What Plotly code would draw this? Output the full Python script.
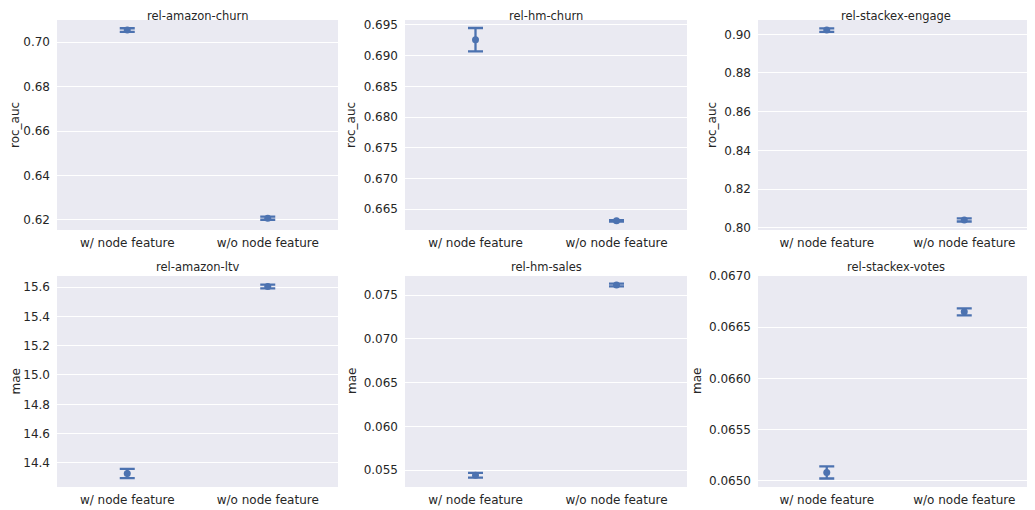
import plotly.graph_objects as go

tasks = ["rel-amazon-churn", "rel-hm-churn", "rel-stackex-engage",
         "rel-amazon-ltv", "rel-hm-sales", "rel-stackex-votes"]
metrics = ["roc_auc", "roc_auc", "roc_auc", "mae", "mae", "mae"]
categories = ["w/ node feature", "w/o node feature"]
with_mean = [0.7054, 0.6926, 0.9022, 14.328, 0.05443, 0.065082]
with_err = [0.0008, 0.0019, 0.0009, 0.032, 0.00028, 0.000059]
without_mean = [0.6208, 0.6631, 0.8040, 15.603, 0.07615, 0.06665]
without_err = [0.0007, 0.00012, 0.0008, 0.013, 0.00016, 0.000034]

y_ranges = [[0.6155, 0.7099], [0.6616, 0.6958], [0.7988, 0.9074],
            [14.236, 15.675], [0.05309, 0.07718], [0.06494, 0.0670]]
y_dticks = [0.02, 0.005, 0.02, 0.2, 0.005, 0.0005]
y_formats = [".2f", ".3f", ".2f", ".1f", ".3f", ".4f"]

# the page body has an 8px margin: the figure is drawn at (8, 8)
OFF = 8
W, H = 1035 - OFF, 510 - OFF
x_px = [(57, 338), (405, 687), (758, 1033)]
y_px = [(20, 230), (276, 487)]
ytitle_x = [15, 351, 712, 15, 351.5, 696.5]

color = "#4C72B0"
font = "DejaVu Sans"
txt = "#262626"


def fx(px):
    return (px - OFF) / W


def fy(py):
    return 1 - (py - OFF) / H


fig = go.Figure()
for i, task in enumerate(tasks):
    r, c = divmod(i, 3)
    ax = "" if i == 0 else str(i + 1)
    xd = [fx(x_px[c][0]), fx(x_px[c][1])]
    yd = [fy(y_px[r][1]), fy(y_px[r][0])]
    fig.add_trace(go.Scatter(
        x=categories, y=[with_mean[i], without_mean[i]],
        error_y=dict(type="data", array=[with_err[i], without_err[i]],
                     color=color, thickness=2.3, width=7.5),
        mode="markers", marker=dict(color=color, size=7),
        xaxis="x" + ax, yaxis="y" + ax, showlegend=False,
    ))
    fig.update_layout(**{
        "xaxis" + ax: dict(domain=xd, anchor="y" + ax, range=[-0.5, 1.5],
                           showgrid=False, zeroline=False, ticks="",
                           automargin=False, ticklabelstandoff=4,
                           tickfont=dict(size=12, color=txt, family=font)),
        "yaxis" + ax: dict(domain=yd, anchor="x" + ax, range=y_ranges[i],
                           dtick=y_dticks[i], tickformat=y_formats[i],
                           gridcolor="white", gridwidth=1.2, zeroline=False,
                           automargin=False, ticklabelstandoff=6,
                           ticks="", tickfont=dict(size=12, color=txt, family=font)),
    })
    if r == 0:
        title_pos = dict(y=1, yanchor="top", yshift=0)
    else:
        title_pos = dict(y=yd[1], yanchor="bottom", yshift=1)
    fig.add_annotation(text=task, xref="paper", yref="paper",
                       x=(xd[0] + xd[1]) / 2, xanchor="center",
                       showarrow=False, borderpad=0,
                       font=dict(size=11.5, color=txt, family=font), **title_pos)
    fig.add_annotation(text=metrics[i], xref="paper", yref="paper",
                       x=fx(ytitle_x[i]), y=(yd[0] + yd[1]) / 2,
                       xanchor="center", yanchor="middle", textangle=-90,
                       showarrow=False, borderpad=0,
                       font=dict(size=12, color=txt, family=font))

fig.update_layout(width=W, height=H, margin=dict(l=0, r=0, t=0, b=0),
                  paper_bgcolor="white", plot_bgcolor="#EAEAF2",
                  font=dict(family=font, color=txt))
fig.write_html("out.html")
